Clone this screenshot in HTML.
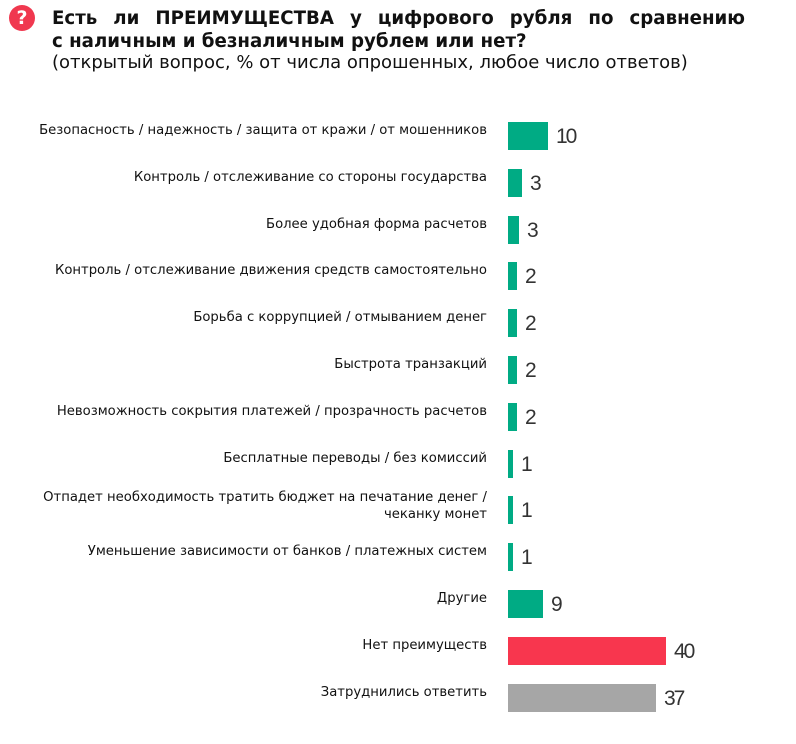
<!DOCTYPE html>
<html><head><meta charset="utf-8"><style>
body{margin:0;width:796px;height:744px;background:#fff;position:relative;overflow:hidden;font-family:"DejaVu Sans","Liberation Sans",sans-serif;color:#111}
.t{position:absolute;left:52px;width:693px;font-weight:bold;font-size:18.2px;line-height:22px;text-align:justify;text-align-last:justify;white-space:nowrap}
.s{position:absolute;left:52px;top:52px;font-size:18px;line-height:22px;white-space:nowrap}
.ic{position:absolute;left:9px;top:5px;width:26px;height:26px;border-radius:50%;background:#f0384f;color:#fff;font-weight:bold;font-size:19px;text-align:center;line-height:26px}
.l{position:absolute;right:309px;font-size:13.2px;line-height:17px;text-align:right;color:#111;white-space:nowrap}
.b{position:absolute;left:508px;height:28px}
.v{position:absolute;font-family:"Liberation Sans",sans-serif;font-size:21px;color:#333;line-height:28px;letter-spacing:-2px}
</style></head><body>
<div class="ic">?</div>
<div class="t" style="top:8px;display:flex;justify-content:space-between"><span>Есть</span><span>ли</span><span>ПРЕИМУЩЕСТВА</span><span>у</span><span>цифрового</span><span>рубля</span><span>по</span><span>сравнению</span></div>
<div class="t" style="top:31px;width:auto;text-align:left;text-align-last:auto">с наличным и безналичным рублем или нет?</div>
<div class="s">(открытый вопрос, % от числа опрошенных, любое число ответов)</div>
<div id="c"></div>
<script>
var d=[["Безопасность / надежность / защита от кражи / от мошенников",10,40],["Контроль / отслеживание со стороны государства",3,14],["Более удобная форма расчетов",3,11],["Контроль / отслеживание движения средств самостоятельно",2,9],["Борьба с коррупцией / отмыванием денег",2,9],["Быстрота транзакций",2,9],["Невозможность сокрытия платежей / прозрачность расчетов",2,9],["Бесплатные переводы / без комиссий",1,5],["Отпадет необходимость тратить бюджет на печатание денег /<br>чеканку монет",1,5],["Уменьшение зависимости от банков / платежных систем",1,5],["Другие",9,35],["Нет преимуществ",40,158],["Затруднились ответить",37,148]];
var h="";
d.forEach(function(r,i){var top=122+i*46.8;var col=i==11?"#f8364e":i==12?"#a6a6a6":"#00ab84";
var two=r[0].indexOf("<br>")>=0;
h+='<div class="l" style="top:'+(two?top-7:top)+'px">'+r[0]+'</div>';
h+='<div class="b" style="top:'+top+'px;width:'+r[2]+'px;background:'+col+'"></div>';
h+='<div class="v" style="top:'+(top+1)+'px;left:'+(508+r[2]+8)+'px">'+r[1]+'</div>';});
document.getElementById("c").innerHTML=h;
</script>
</body></html>
